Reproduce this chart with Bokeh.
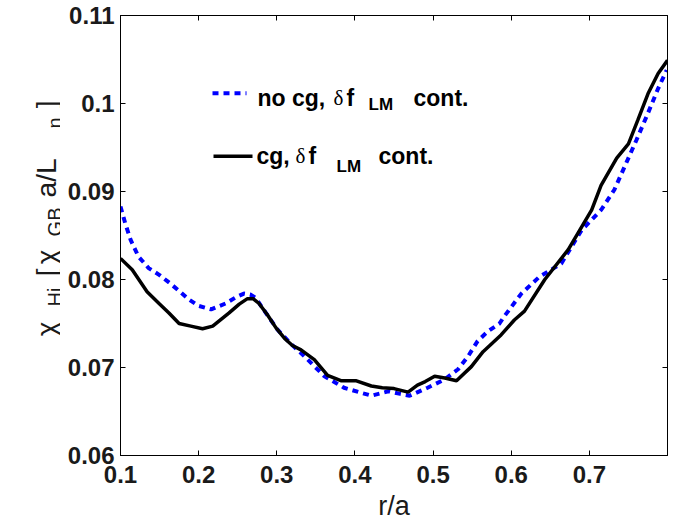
import numpy as np
from bokeh.plotting import figure
from bokeh.models import Range1d, FixedTicker, LinearAxis, Label, ColumnDataSource
from bokeh.layouts import row
from bokeh.core.properties import value
from bokeh.embed import file_html
from bokeh.resources import INLINE

# ---- data ----
r_nocg = [0.100, 0.106, 0.113, 0.123, 0.136, 0.150, 0.163, 0.175, 0.188, 0.200,
          0.216, 0.235, 0.248, 0.258, 0.266, 0.273, 0.286, 0.301, 0.318, 0.335,
          0.361, 0.386, 0.405, 0.421, 0.443, 0.458, 0.470, 0.493, 0.514, 0.532,
          0.545, 0.557, 0.570, 0.585, 0.591, 0.613, 0.636, 0.664, 0.690, 0.715,
          0.732, 0.747, 0.760, 0.775, 0.788, 0.799]
chi_nocg = [0.0883, 0.0864, 0.0845, 0.0826, 0.0813, 0.0805, 0.0796, 0.0787, 0.0777, 0.0770,
            0.0766, 0.0773, 0.0780, 0.0784, 0.0783, 0.0779, 0.0762, 0.0743, 0.0727, 0.0713,
            0.0690, 0.0677, 0.0672, 0.0668, 0.0673, 0.0670, 0.0668, 0.0677, 0.0686, 0.0698,
            0.0713, 0.0730, 0.0741, 0.0750, 0.0758, 0.0784, 0.0803, 0.0818, 0.0856, 0.0879,
            0.0902, 0.0932, 0.0958, 0.0989, 0.1017, 0.1038]

r_cg = [0.100, 0.115, 0.134, 0.149, 0.162, 0.175, 0.190, 0.205, 0.218, 0.239,
        0.252, 0.262, 0.270, 0.277, 0.288, 0.299, 0.310, 0.320, 0.331, 0.348,
        0.365, 0.382, 0.401, 0.421, 0.435, 0.450, 0.468, 0.480, 0.490, 0.502,
        0.515, 0.530, 0.549, 0.564, 0.587, 0.604, 0.617, 0.643, 0.673, 0.703,
        0.715, 0.735, 0.750, 0.762, 0.775, 0.788, 0.800]
chi_cg = [0.0824, 0.0811, 0.0786, 0.0773, 0.0762, 0.0750, 0.0747, 0.0744, 0.0747, 0.0762,
          0.0772, 0.0778, 0.0778, 0.0773, 0.0760, 0.0745, 0.0733, 0.0725, 0.0720, 0.0709,
          0.0691, 0.0685, 0.0685, 0.0679, 0.0677, 0.0676, 0.0672, 0.0680, 0.0684, 0.0690,
          0.0688, 0.0685, 0.0701, 0.0718, 0.0737, 0.0754, 0.0764, 0.0800, 0.0834, 0.0879,
          0.0907, 0.0938, 0.0954, 0.0981, 0.1011, 0.1034, 0.1049]

x_ticks = [0.1, 0.2, 0.3, 0.4, 0.5, 0.6, 0.7]
x_tick_labels = ["0.1", "0.2", "0.3", "0.4", "0.5", "0.6", "0.7"]
y_ticks = [0.06, 0.07, 0.08, 0.09, 0.10, 0.11]
y_tick_labels = ["0.06", "0.07", "0.08", "0.09", "0.1", "0.11"]

x_label = "r/a"
# y label pieces: text, kind (main / subscript)
ylabel_text = ["χ", "Hi", "[", "χ", "GB", "a/L", "n", "]"]
ylabel_kind = ["main", "sub", "main", "main", "sub", "main", "sub", "main"]

# legend rows: pieces of "no cg, δ f_LM cont." and "cg, δ f_LM cont."
legend_pieces = [["no cg,", "δ", "f", "LM", "cont."],
                 ["cg,", "δ", "f", "LM", "cont."]]

X0, X1 = 0.1, 0.8
Y0, Y1 = 0.06, 0.11

# ---- layout (page pixels) ----
W, H = 685, 523
LW = 60                      # strip carrying the y label
FL, FR, FT, FB = 120, 667, 15, 456   # frame edges in page pixels
FONT = "Liberation Sans"


def dx(px):
    return X0 + (px - FL) * (X1 - X0) / (FR - FL)


def dy(py):
    return Y0 + (FB - py) * (Y1 - Y0) / (FB - FT)


# ---------- y-label strip (rotated text, read bottom to top) ----------
lab = figure(width=LW, height=H, x_range=Range1d(0, LW), y_range=Range1d(0, H),
             output_backend="svg", toolbar_location=None,
             x_axis_type=None, y_axis_type=None,
             min_border_left=0, min_border_right=0, min_border_top=0, min_border_bottom=0,
             background_fill_color="white", border_fill_color="white")
lab.frame_align = False
lab.outline_line_color = None
lab.xgrid.grid_line_color = None
lab.ygrid.grid_line_color = None

# page px (from top) where each piece ends (its upper end)
ylab_end = [321, 287, 268, 249, 207, 158, 117, 100]
main_src = ColumnDataSource(dict(
    x=[46 for k in ylabel_kind if k == "main"],
    y=[H - e for e, k in zip(ylab_end, ylabel_kind) if k == "main"],
    t=[t for t, k in zip(ylabel_text, ylabel_kind) if k == "main"]))
sub_src = ColumnDataSource(dict(
    x=[54 for k in ylabel_kind if k == "sub"],
    y=[H - e for e, k in zip(ylab_end, ylabel_kind) if k == "sub"],
    t=[t for t, k in zip(ylabel_text, ylabel_kind) if k == "sub"]))
lab.text(x="x", y="y", text="t", source=main_src, angle=np.pi / 2,
         text_font=value(FONT), text_font_size="28px", text_color="#1a1a1a",
         text_align="right", text_baseline="alphabetic")
lab.text(x="x", y="y", text="t", source=sub_src, angle=np.pi / 2,
         text_font=value(FONT), text_font_size="20px", text_color="#1a1a1a",
         text_align="right", text_baseline="alphabetic")

# ---------- main plot ----------
MW = W - LW
p = figure(width=MW, height=H, x_range=Range1d(X0, X1), y_range=Range1d(Y0, Y1),
           output_backend="svg", toolbar_location=None,
           min_border_left=FL - LW, min_border_right=W - FR, min_border_top=FT,
           min_border_bottom=H - FB,
           background_fill_color="white", border_fill_color="white")
p.frame_align = False
p.outline_line_color = "black"
p.outline_line_width = 1
p.xgrid.grid_line_color = None
p.ygrid.grid_line_color = None

p.add_layout(LinearAxis(), "above")
p.add_layout(LinearAxis(), "right")

for ax in p.xaxis:
    ax.ticker = FixedTicker(ticks=x_ticks)
    ax.major_label_overrides = dict(zip(x_ticks, x_tick_labels))
for ax in p.yaxis:
    ax.ticker = FixedTicker(ticks=y_ticks)
    ax.major_label_overrides = dict(zip(y_ticks, y_tick_labels))

for ax in list(p.xaxis) + list(p.yaxis):
    ax.axis_line_color = "black"
    ax.axis_line_width = 1
    ax.major_tick_in = 5
    ax.major_tick_out = 0
    ax.major_tick_line_color = "black"
    ax.minor_tick_line_color = None
    ax.major_label_text_font = FONT
    ax.major_label_text_font_style = "bold"
    ax.major_label_text_font_size = "24px"
    ax.major_label_text_color = "#1a1a1a"
    ax.major_label_standoff = 6

bx = p.below[0]
bx.major_label_standoff = 10
bx.axis_label = x_label
bx.axis_label_text_font = FONT
bx.axis_label_text_font_style = "normal"
bx.axis_label_text_font_size = "27px"
bx.axis_label_text_color = "#1a1a1a"
bx.axis_label_standoff = 5

for ax in p.above + p.right:
    ax.major_label_text_font_size = "0px"
    ax.major_label_text_color = None
    ax.major_label_standoff = 0

p.line(r_nocg, chi_nocg, line_color="#0000ff", line_width=4, line_dash="6 5")
p.line(r_cg, chi_cg, line_color="black", line_width=3.5)

# ---- legend (manual, to allow subscripts) ----
p.line([dx(212), dx(246)], [dy(93), dy(93)], line_color="#0000ff", line_width=4, line_dash="6 5")
p.line([dx(213), dx(252)], [dy(156), dy(156)], line_color="black", line_width=3.5)

# x start of each piece, baseline of row, baseline of subscript
leg_x = [[257, 333, 346, 368, 413], [256, 295, 308, 336, 378]]
leg_base = [98, 156]
leg_sub_base = [104, 166]
for i in range(2):
    for j, txt in enumerate(legend_pieces[i]):
        is_sub = (j == 3)
        is_greek = (j == 1)
        p.add_layout(Label(
            x=dx(leg_x[i][j]), y=dy(leg_sub_base[i] if is_sub else leg_base[i]), text=txt,
            text_font="Liberation Serif" if is_greek else FONT,
            text_font_style="normal" if is_greek else "bold",
            text_font_size="17px" if is_sub else ("21px" if is_greek else "23px"),
            text_align="left", text_baseline="alphabetic", text_color="black"))

layout = row(lab, p)
open("out.html", "w").write(file_html(layout, INLINE))
